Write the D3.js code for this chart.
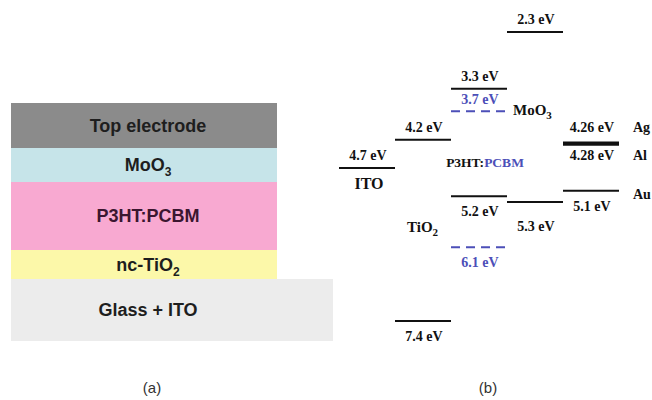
<!DOCTYPE html>
<html>
<head>
<meta charset="utf-8">
<script src="https://cdn.jsdelivr.net/npm/d3@7"></script>
<style>
  html, body { margin: 0; padding: 0; background: #fff; }
  svg { display: block; }
</style>
</head>
<body>
<svg id="chart" width="652" height="400"></svg>
<script>
// ---- (a) device stack, top to bottom ----
const layerNames = ["Top electrode", "MoO3", "P3HT:PCBM", "nc-TiO2", "Glass + ITO"];
const layerThickness = [45, 34, 68, 29, 62];   // schematic relative thickness
const layerColors = ["#8b8b8b", "#c6e4e9", "#f8a9d1", "#fcf8a9", "#ececec"];
const layerTextColors = ["#1e1e1e", "#1e1e1e", "#3b1630", "#1e1e1e", "#1e1e1e"];

// ---- (b) energy levels (eV below vacuum) ----
const columns = ["ITO", "TiO2", "P3HT:PCBM", "MoO3", "Metal"];
const levelValues  = [4.7, 4.2, 7.4, 3.3, 5.2, 3.7, 6.1, 2.3, 5.3, 4.26, 4.28, 5.1];
const levelColumns = ["ITO", "TiO2", "TiO2", "P3HT:PCBM", "P3HT:PCBM", "P3HT:PCBM", "P3HT:PCBM",
                      "MoO3", "MoO3", "Metal", "Metal", "Metal"];
const levelMaterial = ["ITO", "TiO2", "TiO2", "P3HT", "P3HT", "PCBM", "PCBM",
                       "MoO3", "MoO3", "Ag", "Al", "Au"];
const labelSide = ["above", "above", "below", "above", "below", "above", "below",
                   "above", "lower", "above", "below", "below"];
const metalNames = ["Ag", "Al", "Au"];
const captions = ["(a)", "(b)"];

const svg = d3.select("#chart");
const BLUE = "#4c4fb8";
const INK = "#111";
const SERIF = "'Liberation Serif', 'Times New Roman', serif";
const SANS = "'Liberation Sans', Arial, sans-serif";

// ---------- (a) layer stack ----------
const cum = d3.cumsum(layerThickness);
const stackY = d3.scaleLinear().domain([0, cum[cum.length - 1]]).range([103, 341]);
const stack = layerNames.map((name, i) => ({
  name, i,
  y0: i === 0 ? 0 : cum[i - 1],
  y1: cum[i],
  color: layerColors[i],
  text: layerTextColors[i],
  wide: i === layerNames.length - 1
}));
const stackX = { left: 11, right: 277, wideRight: 333 };

const gA = svg.append("g");
gA.selectAll("rect").data(stack).join("rect")
  .attr("x", stackX.left)
  .attr("y", d => stackY(d.y0))
  .attr("width", d => (d.wide ? stackX.wideRight : stackX.right) - stackX.left)
  .attr("height", d => stackY(d.y1) - stackY(d.y0))
  .attr("fill", d => d.color);

const labelX = 148;
const layerText = gA.selectAll("text").data(stack).join("text")
  .attr("x", labelX)
  .attr("y", d => (stackY(d.y0) + stackY(d.y1)) / 2 + 6)
  .attr("text-anchor", "middle")
  .attr("font-family", SANS)
  .attr("font-weight", "bold")
  .attr("font-size", 18)
  .attr("fill", d => d.text);

// chemical formulas get a subscripted trailing digit
function writeFormula(sel, name, subSize, dy) {
  const m = name.match(/^(.*?)(\d)$/);
  if (m && (name === "MoO3" || name === "nc-TiO2" || name === "TiO2")) {
    sel.append("tspan").text(m[1]);
    sel.append("tspan").attr("font-size", subSize).attr("dy", dy).text(m[2]);
  } else {
    sel.text(name);
  }
}
layerText.each(function (d) { writeFormula(d3.select(this), d.name, 12, 5); });

// ---------- (b) energy diagram ----------
const x = d3.scaleBand().domain(columns).range([339, 619]).paddingInner(0);
const y = d3.scaleLinear().domain([2.3, 7.4]).range([32, 321]);

const levels = levelValues.map((v, i) => ({
  value: v,
  col: levelColumns[i],
  mat: levelMaterial[i],
  side: labelSide[i]
}));

const gB = svg.append("g");
gB.selectAll("line.level").data(levels).join("line")
  .attr("class", "level")
  .attr("x1", d => x(d.col))
  .attr("x2", d => x(d.col) + x.bandwidth())
  .attr("y1", d => y(d.value))
  .attr("y2", d => y(d.value))
  .attr("stroke", d => d.mat === "PCBM" ? BLUE : INK)
  .attr("stroke-width", d => (d.mat === "Ag" || d.mat === "Al") ? 3 : 2)
  .attr("stroke-dasharray", d => d.mat === "PCBM" ? "9,6" : null);

const isMetalPair = d => d.mat === "Ag" || d.mat === "Al";
function labelY(d) {
  if (d.side === "above") return y(d.value) - (isMetalPair(d) ? 11 : d.mat === "PCBM" ? 7 : 8);
  if (d.side === "lower") return y(d.value) + 29;
  return y(d.value) + (isMetalPair(d) ? 16 : 20);
}

gB.selectAll("text.val").data(levels).join("text")
  .attr("class", "val")
  .attr("x", d => x(d.col) + x.bandwidth() / 2 + 1)
  .attr("y", labelY)
  .attr("text-anchor", "middle")
  .attr("font-family", SERIF)
  .attr("font-weight", "bold")
  .attr("font-size", 14)
  .attr("fill", d => d.mat === "PCBM" ? BLUE : INK)
  .text(d => `${d.value} eV`);

// material names
const nameStyle = s => s.attr("font-family", SERIF).attr("font-weight", "bold").attr("fill", INK);

gB.append("text").call(nameStyle)
  .attr("x", x("ITO") + x.bandwidth() / 2 + 2)
  .attr("y", y(4.7) + 21)
  .attr("text-anchor", "middle").attr("font-size", 16)
  .text("ITO");

const tio2 = gB.append("text").call(nameStyle)
  .attr("x", x("TiO2") + 12)
  .attr("y", 232)
  .attr("font-size", 15);
writeFormula(tio2, "TiO2", 11, 4);

const moo3 = gB.append("text").call(nameStyle)
  .attr("x", x("MoO3") + 6)
  .attr("y", y(3.7) + 4)
  .attr("font-size", 15);
writeFormula(moo3, "MoO3", 11, 4);

const blend = gB.append("text").call(nameStyle)
  .attr("x", x("P3HT:PCBM") + x.bandwidth() / 2 + 6)
  .attr("y", 167)
  .attr("text-anchor", "middle")
  .attr("font-size", 13.5);
blend.append("tspan").text("P3HT:");
blend.append("tspan").attr("fill", BLUE).text("PCBM");

const metalLevels = levels.filter(d => metalNames.includes(d.mat));
gB.selectAll("text.metal").data(metalLevels).join("text")
  .attr("class", "metal")
  .call(nameStyle)
  .attr("x", x("Metal") + x.bandwidth() + 14)
  .attr("y", d => d.mat === "Au" ? y(d.value) + 8 : labelY(d))
  .attr("font-size", 14)
  .text(d => d.mat);

// ---------- captions ----------
svg.selectAll("text.cap").data(captions).join("text")
  .attr("class", "cap")
  .attr("x", (d, i) => i === 0 ? 152 : 488)
  .attr("y", 393)
  .attr("text-anchor", "middle")
  .attr("font-family", SANS)
  .attr("font-size", 15)
  .attr("fill", "#333")
  .text(d => d);
</script>
</body>
</html>
